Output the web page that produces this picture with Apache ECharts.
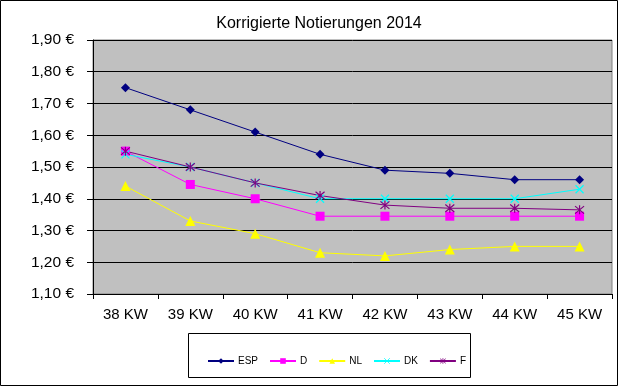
<!DOCTYPE html>
<html>
<head>
<meta charset="utf-8">
<script src="https://cdn.jsdelivr.net/npm/echarts@6/dist/echarts.min.js"></script>
<style>html,body{margin:0;padding:0;background:#fff;}#c{width:619px;height:387px;}</style>
</head>
<body>
<div id="c"></div>
<script>
var categories = ['38 KW','39 KW','40 KW','41 KW','42 KW','43 KW','44 KW','45 KW'];
var espValues = [1.75, 1.68, 1.61, 1.54, 1.49, 1.48, 1.46, 1.46];
var dValues   = [1.55, 1.445, 1.40, 1.345, 1.345, 1.345, 1.345, 1.345];
var nlValues  = [1.44, 1.33, 1.29, 1.23, 1.22, 1.24, 1.25, 1.25];
var dkValues  = [1.54, 1.50, 1.45, 1.40, 1.40, 1.40, 1.40, 1.43];
var fValues   = [1.55, 1.50, 1.45, 1.41, 1.38, 1.37, 1.37, 1.365];
var yTicks = [1.1, 1.2, 1.3, 1.4, 1.5, 1.6, 1.7, 1.8, 1.9];

var xPath = 'path://M0,0L10,10M10,0L0,10';
var starPath = 'path://M0,0L10,10M10,0L0,10M5,-1L5,11';

function mk(name, data, color, symbol, size, stroke) {
  return {
    name: name, type: 'line', data: data, symbol: symbol, symbolSize: size,
    showSymbol: true,
    lineStyle: {color: color, width: 1},
    itemStyle: stroke ? {color: color, borderColor: color, borderWidth: 1.2} : {color: color},
    emphasis: {disabled: true}, animation: false
  };
}

var chart = echarts.init(document.getElementById('c'), null, {renderer: 'canvas'});
chart.setOption({
  animation: false,
  backgroundColor: '#fff',
  title: {
    text: 'Korrigierte Notierungen 2014', left: 314, top: 11, textAlign: 'center',
    textStyle: {fontFamily: 'Liberation Sans, Arial', fontSize: 16, fontWeight: 'normal', color: '#000'}
  },
  grid: {left: 93, right: 7, top: 40, bottom: 93, show: true, backgroundColor: '#c0c0c0', borderWidth: 1, borderColor: '#808080'},
  xAxis: {
    type: 'category', data: categories, boundaryGap: true,
    axisLine: {lineStyle: {color: '#000'}},
    axisTick: {show: true, inside: false, length: 5, lineStyle: {color: '#000'}},
    axisLabel: {fontFamily: 'Liberation Sans, Arial', fontSize: 15, color: '#000', margin: 13},
    splitLine: {show: false}
  },
  yAxis: {
    type: 'value', min: yTicks[0], max: yTicks[yTicks.length-1], interval: 0.1,
    axisLine: {show: true, lineStyle: {color: '#000'}},
    axisTick: {show: true, length: 6, lineStyle: {color: '#000'}},
    axisLabel: {fontFamily: 'Liberation Sans, Arial', fontSize: 15.5, color: '#000', margin: 19,
      formatter: function(v){ return v.toFixed(2).replace('.', ',') + ' €'; }},
    splitLine: {show: true, lineStyle: {color: '#000', width: 1}}
  },
  legend: {
    left: 202, top: 351, itemWidth: 26, itemHeight: 7, itemGap: 11,
    textStyle: {fontFamily: 'Liberation Sans, Arial', fontSize: 10, color: '#000', padding: [0, 0, 0, -1]},
    data: ['ESP','D','NL',
      {name: 'DK', itemStyle: {borderWidth: 0.8}},
      {name: 'F', itemStyle: {borderWidth: 0.8}}]
  },
  graphic: [
    {type: 'rect', shape: {x: 0.5, y: 0.5, width: 617, height: 385}, style: {fill: 'none', stroke: '#000', lineWidth: 1}, silent: true},
    {type: 'rect', shape: {x: 188.5, y: 333.5, width: 282, height: 44}, style: {fill: 'none', stroke: '#000', lineWidth: 1}, silent: true}
  ],
  series: [
    mk('ESP', espValues, '#000080', 'diamond', 9, false),
    mk('D', dValues, '#ff00ff', 'rect', 9, false),
    mk('NL', nlValues, '#ffff00', 'triangle', 10, false),
    mk('DK', dkValues, '#00ffff', xPath, 8, true),
    mk('F', fValues, '#800080', starPath, 9, true)
  ]
});
</script>
</body>
</html>
